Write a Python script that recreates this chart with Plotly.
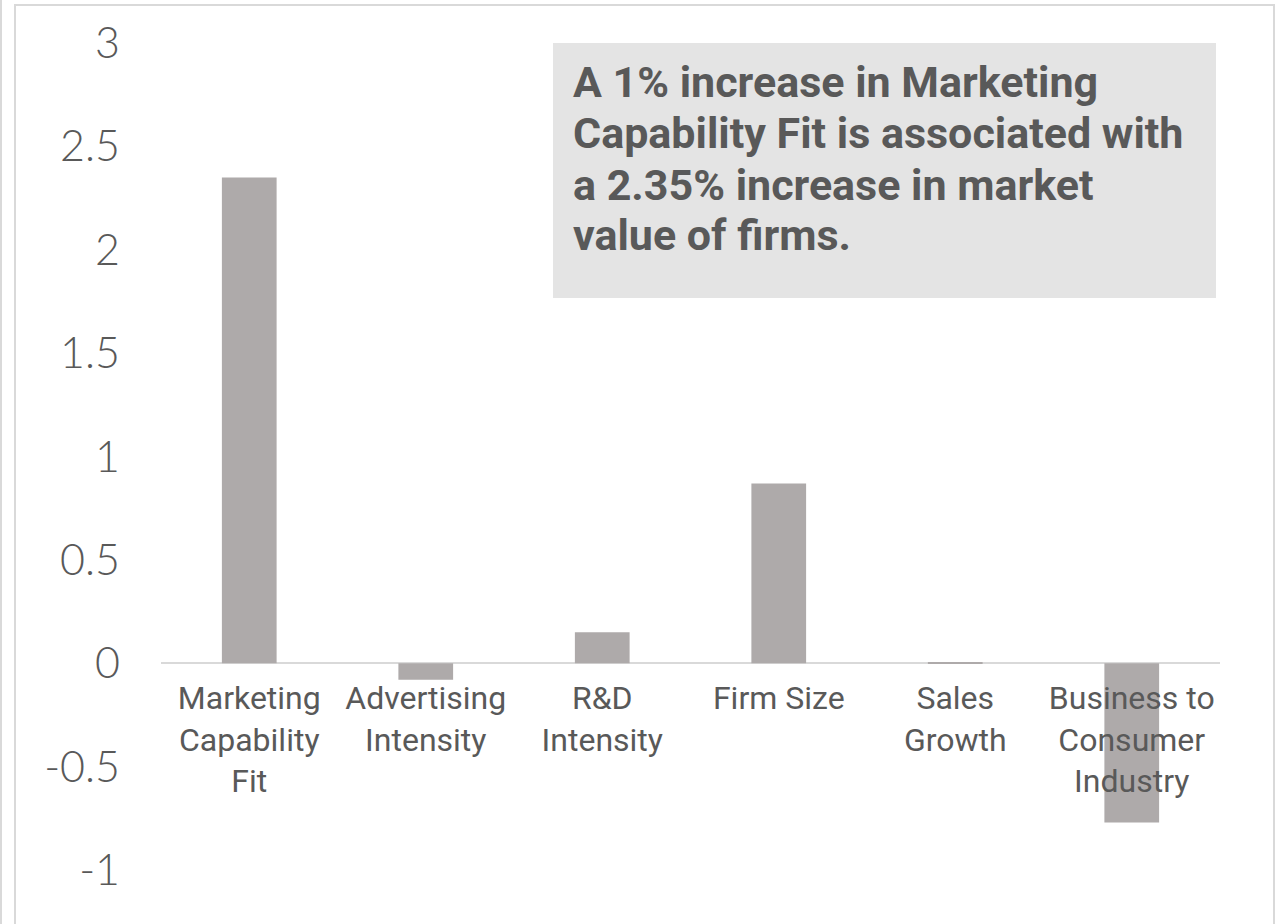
import plotly.graph_objects as go

# Regression coefficients for each firm-level driver of market value
categories = [
    "Marketing<br>Capability<br>Fit",
    "Advertising<br>Intensity",
    "R&D<br>Intensity",
    "Firm Size",
    "Sales<br>Growth",
    "Business to<br>Consumer<br>Industry",
]
coefficients = [2.35, -0.08, 0.15, 0.87, 0.005, -0.77]

y_range = [-1, 3]
y_tick_values = [-1, -0.5, 0, 0.5, 1, 1.5, 2, 2.5, 3]
y_tick_labels = ["-1", "-0.5", "0", "0.5", "1", "1.5", "2", "2.5", "3"]

callout_lines = [
    "A 1% increase in Marketing",
    "Capability Fit is associated with",
    "a 2.35% increase in market",
    "value of firms.",
]

W, H = 1276, 924
ML, MR, MT, MB = 161, 56, 43, 54
PW, PH = W - ML - MR, H - MT - MB


def px_x(p):
    return (p - ML) / PW


def px_y(p):
    return (H - MB - p) / PH


TEXT = "#595959"
BORDER = "#d9d9d9"

fig = go.Figure(
    go.Bar(
        x=categories,
        y=coefficients,
        marker=dict(color="#aeaaaa", line=dict(width=0)),
        width=0.31,
    )
)

shapes = [
    # outer chart frame
    dict(type="rect", xref="paper", yref="paper",
         x0=px_x(15), x1=px_x(1274), y0=px_y(990), y1=px_y(5),
         line=dict(color=BORDER, width=2), fillcolor="rgba(0,0,0,0)", layer="below"),
    dict(type="line", xref="paper", yref="paper",
         x0=px_x(1), x1=px_x(1), y0=px_y(-5), y1=px_y(990),
         line=dict(color=BORDER, width=2)),
    # callout background
    dict(type="rect", xref="paper", yref="paper",
         x0=px_x(553), x1=px_x(1216), y0=px_y(298), y1=px_y(43),
         line=dict(width=0), fillcolor="#e4e4e4", layer="below"),
]

line_centers = [82, 133, 185, 235]
annotations = [
    dict(
        text=t, xref="paper", yref="paper",
        x=px_x(571), y=px_y(c), xanchor="left", yanchor="middle",
        align="left", showarrow=False,
        font=dict(family="Roboto", size=43, color=TEXT, weight="bold"),
    )
    for t, c in zip(callout_lines, line_centers)
]

# category labels sit right under the zero line
zero_pos = (0 - y_range[0]) / (y_range[1] - y_range[0])

fig.update_layout(
    width=W, height=H,
    margin=dict(l=ML, r=MR, t=MT, b=MB, autoexpand=False),
    paper_bgcolor="white",
    plot_bgcolor="rgba(0,0,0,0)",
    showlegend=False,
    bargap=0.69,
    shapes=shapes,
    annotations=annotations,
    xaxis=dict(
        showgrid=False, showline=False, ticks="",
        anchor="free", position=zero_pos, automargin=False,
        tickfont=dict(family="Roboto", size=32, color=TEXT),
        ticklabelstandoff=13,
    ),
    yaxis=dict(
        range=y_range, showgrid=False, showline=False, automargin=False,
        zeroline=True, zerolinecolor=BORDER, zerolinewidth=2,
        tickmode="array", tickvals=y_tick_values, ticktext=y_tick_labels,
        tickfont=dict(family="Lato", size=43, color=TEXT, weight=300),
        ticklabelstandoff=40,
    ),
)

fig.write_html("out.html")
